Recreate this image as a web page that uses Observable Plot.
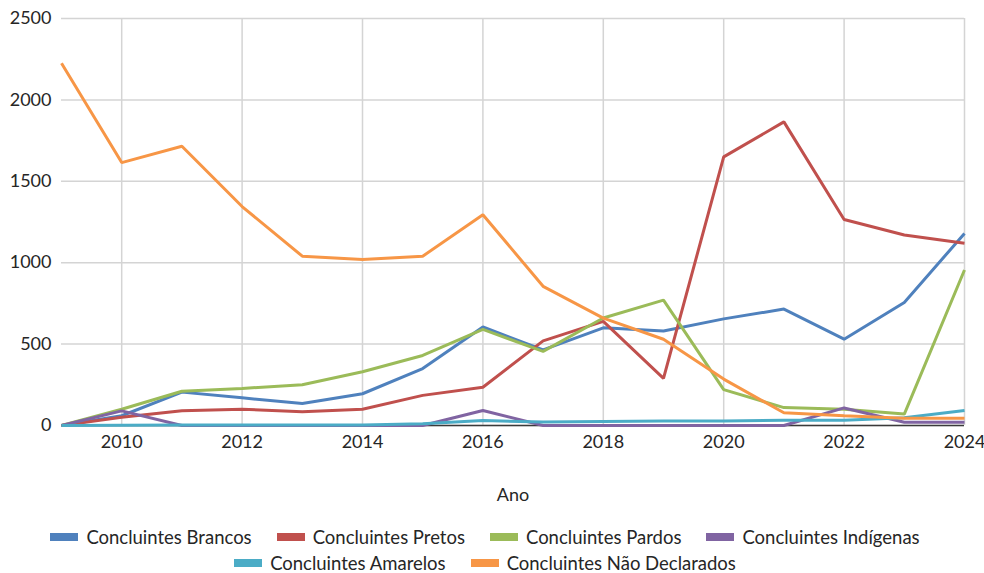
<!DOCTYPE html>
<html><head><meta charset="utf-8">
<script src="https://cdn.jsdelivr.net/npm/d3@7"></script>
<script src="https://cdn.jsdelivr.net/npm/@observablehq/plot@0.6"></script>
<style>
body{margin:0;background:#fff;font-family:Lato,"Open Sans",sans-serif;color:#262626;}
#chart svg{display:block;}
.legend{width:970px;padding-top:14px;}
.row{display:flex;justify-content:center;height:26px;align-items:center;font-size:18.5px;}
.item{display:flex;align-items:center;margin:0 12.5px;white-space:nowrap;}
.sw{width:28px;height:8px;margin-right:8px;display:inline-block;}
</style></head><body>
<div id="chart"></div>
<div class="legend" id="legend"></div>
<script>
const years = [2009,2010,2011,2012,2013,2014,2015,2016,2017,2018,2019,2020,2021,2022,2023,2024];
const brancos = [0, 60, 205, 170, 135, 195, 350, 605, 465, 600, 580, 655, 715, 530, 755, 1180];
const pretos = [0, 50, 90, 100, 85, 100, 185, 235, 520, 640, 290, 1650, 1865, 1265, 1170, 1120];
const pardos = [0, 100, 210, 228, 250, 330, 430, 590, 455, 660, 770, 220, 110, 100, 70, 955];
const indigenas = [0, 90, 0, 0, 0, 0, 0, 92, 0, 0, 0, 0, 0, 108, 20, 20];
const amarelos = [0, 2, 3, 3, 3, 3, 10, 30, 22, 25, 28, 28, 33, 33, 48, 92];
const naoDeclarados = [2225, 1615, 1715, 1345, 1040, 1020, 1040, 1295, 855, 660, 530, 285, 78, 60, 45, 45];
const seriesNames = ["Concluintes Brancos","Concluintes Pretos","Concluintes Pardos","Concluintes Indígenas","Concluintes Amarelos","Concluintes Não Declarados"];
const seriesColors = ["#4F81BD","#C0504D","#9BBB59","#8064A2","#4BACC6","#F79646"];
const xTicks = [2010,2012,2014,2016,2018,2020,2022,2024];
const yTicks = [0,500,1000,1500,2000,2500];
const xLabel = "Ano";

const seriesValues = [brancos, pretos, pardos, indigenas, amarelos, naoDeclarados];
const data = seriesNames.flatMap((name, k) => years.map((yr, i) => ({year: yr, value: seriesValues[k][i], name})));

const chart = Plot.plot({
  width: 984, height: 510,
  marginLeft: 61, marginRight: 20, marginTop: 18, marginBottom: 85,
  style: {fontSize: "18px", fontFamily: "Lato, 'Open Sans', sans-serif", color: "#262626", background: "#fff"},
  x: {domain: [2009, 2024]},
  y: {domain: [0, 2500]},
  color: {domain: seriesNames, range: seriesColors},
  marks: [
    Plot.gridX(xTicks, {stroke: "#d4d4d4", strokeOpacity: 1, strokeWidth: 1.5}),
    Plot.gridY(yTicks, {stroke: "#d4d4d4", strokeOpacity: 1, strokeWidth: 1.5}),
    Plot.axisX({ticks: xTicks, tickSize: 0, tickPadding: 10, tickFormat: d3.format("d"), label: xLabel, labelAnchor: "center", labelArrow: "none", labelOffset: 75}),
    Plot.axisY({ticks: yTicks, tickSize: 0, tickPadding: 10, tickFormat: d3.format("d"), label: null}),
    Plot.ruleY([0], {stroke: "#3a3a3a", strokeWidth: 1.5}),
    Plot.line(data, {x: "year", y: "value", z: "name", stroke: "name", strokeWidth: 3, strokeLinejoin: "miter", strokeLinecap: "butt"})
  ]
});
document.getElementById("chart").appendChild(chart);

const legend = document.getElementById("legend");
[[0,1,2,3],[4,5]].forEach(idxs => {
  const row = document.createElement("div");
  row.className = "row";
  idxs.forEach(i => {
    const it = document.createElement("div");
    it.className = "item";
    const sw = document.createElement("span");
    sw.className = "sw";
    sw.style.background = seriesColors[i];
    it.appendChild(sw);
    it.appendChild(document.createTextNode(seriesNames[i]));
    row.appendChild(it);
  });
  legend.appendChild(row);
});
</script>
</body></html>
